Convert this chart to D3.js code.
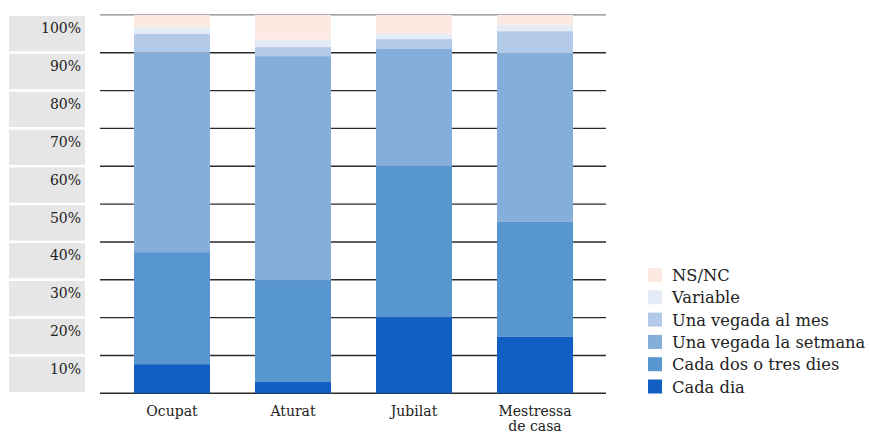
<!DOCTYPE html>
<html><head><meta charset="utf-8">
<script src="https://cdn.jsdelivr.net/npm/d3@7"></script>
<style>body{margin:0;background:#fff}svg{display:block}</style>
</head><body><svg id="c" width="869" height="434"></svg>
<script>
const categories = ["Ocupat","Aturat","Jubilat","Mestressa de casa"];
const seriesNames = ["Cada dia","Cada dos o tres dies","Una vegada la setmana","Una vegada al mes","Variable","NS/NC"];
const cadaDia     = [7.7, 3.0, 20.1, 14.9];
const cadaDos     = [29.6, 26.9, 40.0, 30.4];
const setmana     = [52.7, 59.2, 30.9, 44.6];
const mes         = [4.95, 2.4, 2.6, 5.8];
const variable    = [1.8, 2.0, 1.4, 1.6];
const nsnc        = [3.25, 6.5, 5.0, 2.7];
const tickValues  = [10,20,30,40,50,60,70,80,90,100];
const colors = ["#125fc4","#5896d0","#86aedb","#b3c9e8","#e3ebf7","#fce9e2"];

const seriesValues = [cadaDia, cadaDos, setmana, mes, variable, nsnc];
const rows = categories.map((c,i)=>{const r={cat:c}; seriesNames.forEach((s,j)=>r[s]=seriesValues[j][i]); return r;});
const stack = d3.stack().keys(seriesNames)(rows);

const svg = d3.select("#c");
const font = "'DejaVu Serif', serif";
const y = d3.scaleLinear().domain([0,100]).range([393.3,14.9]);
const x = d3.scaleBand().domain(categories).range([111.5,595.5]).paddingInner(0.372).paddingOuter(0.186);

// label boxes
svg.append("g").selectAll("rect").data(tickValues).join("rect")
  .attr("x",9).attr("width",76)
  .attr("y",d=>y(d)+1.2).attr("height",d=>y(d-10)-y(d)-2.6)
  .attr("fill","#e6e6e6");
svg.append("g").selectAll("text").data(tickValues).join("text")
  .attr("x",81).attr("y",d=>y(d-5)-0.5)
  .attr("text-anchor","end").attr("font-family",font).attr("font-size",14)
  .attr("fill","#222").text(d=>d+"%");

// gridlines
svg.append("g").selectAll("line").data([0].concat(tickValues)).join("line")
  .attr("x1",100).attr("x2",606).attr("y1",d=>y(d)).attr("y2",d=>y(d))
  .attr("stroke",d=>d===100?"#888":"#2a2a2a").attr("stroke-width",1.4);

// bars
svg.append("g").selectAll("g").data(stack).join("g")
  .attr("fill",(d,i)=>colors[i])
  .selectAll("rect").data(d=>d).join("rect")
  .attr("x",d=>x(d.data.cat)).attr("width",x.bandwidth())
  .attr("y",d=>y(d[1])).attr("height",d=>y(d[0])-y(d[1]));

// x labels
const xl = svg.append("g").selectAll("text").data(categories).join("text")
  .attr("x",d=>x(d)+x.bandwidth()/2).attr("y",416)
  .attr("text-anchor","middle").attr("font-family",font).attr("font-size",14).attr("fill","#222");
xl.each(function(d){
  const words = d==="Mestressa de casa" ? ["Mestressa","de casa"] : [d];
  d3.select(this).selectAll("tspan").data(words).join("tspan")
    .attr("x",x(d)+x.bandwidth()/2).attr("dy",(w,i)=>i?14.8:0).text(w=>w);
});

// legend
const leg = svg.append("g").selectAll("g").data(seriesNames.slice().reverse()).join("g")
  .attr("transform",(d,i)=>`translate(648,${275+i*22.3})`);
leg.append("rect").attr("x",0).attr("y",-7).attr("width",14).attr("height",14)
  .attr("fill",d=>colors[seriesNames.indexOf(d)]);
leg.append("text").attr("x",24).attr("y",6).attr("font-family",font).attr("font-size",16.3)
  .attr("fill","#222").text(d=>d);
</script></body></html>
